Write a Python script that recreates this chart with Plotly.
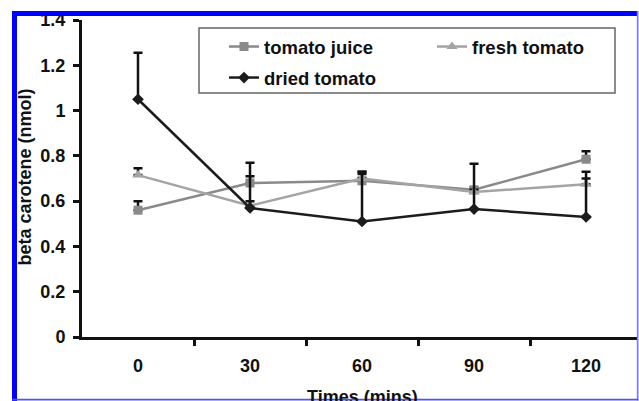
import plotly.graph_objects as go

# Sampling times (minutes) and mean beta carotene (nmol) per treatment
times = ["0", "30", "60", "90", "120"]
tomato_juice = [0.56, 0.68, 0.69, 0.65, 0.785]
tomato_juice_err = [0.04, 0.09, 0.03, 0.01, 0.035]
fresh_tomato = [0.715, 0.58, 0.70, 0.64, 0.675]
fresh_tomato_err = [0.03, 0.13, 0.03, 0.01, 0.055]
dried_tomato = [1.05, 0.57, 0.51, 0.565, 0.53]
dried_tomato_err = [0.205, 0.03, 0.22, 0.20, 0.17]
y_ticks = [0, 0.2, 0.4, 0.6, 0.8, 1, 1.2, 1.4]
y_tick_text = ["0", "0.2", "0.4", "0.6", "0.8", "1", "1.2", "1.4"]

W, H = 639, 401
L, R, T, B = 82, 2, 20, 64
PW, PH = W - L - R, H - T - B
FONT = dict(family="Liberation Sans, Arial, sans-serif", size=18, color="#111111", weight="bold")
LEGEND_FONT = dict(FONT, size=18.5)


def px_x(x):
    return (x - L) / PW


def px_y(y):
    return (H - B - y) / PH


xs = list(range(len(times)))


def err(values):
    return dict(type="data", array=values, arrayminus=[0] * len(values), symmetric=False,
                color="#111111", thickness=2.5, width=4.5)


def legend_box(x, y):
    return dict(orientation="h", x=px_x(x), y=px_y(y), xanchor="left", yanchor="top",
                bgcolor="rgba(0,0,0,0)", borderwidth=0, font=LEGEND_FONT)


fig = go.Figure()
fig.add_trace(go.Scatter(
    x=xs, y=tomato_juice, name="tomato juice", mode="lines+markers",
    line=dict(color="#8a8a8a", width=2.5),
    marker=dict(symbol="square", size=9, color="#8a8a8a"),
    error_y=err(tomato_juice_err), legend="legend",
))
fig.add_trace(go.Scatter(
    x=xs, y=fresh_tomato, name="fresh tomato", mode="lines+markers",
    line=dict(color="#a4a4a4", width=2.5),
    marker=dict(symbol="triangle-up", size=10, color="#a4a4a4"),
    error_y=err(fresh_tomato_err), legend="legend3",
))
fig.add_trace(go.Scatter(
    x=xs, y=dried_tomato, name="dried tomato", mode="lines+markers",
    line=dict(color="#1c1c1c", width=2.5),
    marker=dict(symbol="diamond", size=9, color="#1c1c1c"),
    error_y=err(dried_tomato_err), legend="legend2",
))

shapes = [
    # legend frame
    dict(type="rect", xref="paper", yref="paper", x0=px_x(199), x1=px_x(615),
         y0=px_y(93), y1=px_y(28), line=dict(color="#666666", width=1.5),
         fillcolor="white", layer="below"),
    # blue page frame
    dict(type="rect", xref="paper", yref="paper", x0=px_x(12), x1=px_x(17),
         y0=px_y(401), y1=px_y(11), line=dict(width=0), fillcolor="#0000ff", layer="above"),
    dict(type="rect", xref="paper", yref="paper", x0=px_x(12), x1=px_x(637),
         y0=px_y(16), y1=px_y(11), line=dict(width=0), fillcolor="#0000ff", layer="above"),
    dict(type="rect", xref="paper", yref="paper", x0=px_x(636.8), x1=px_x(638.5),
         y0=px_y(400.5), y1=px_y(11), line=dict(width=0), fillcolor="#7a7aff", layer="above"),
    dict(type="rect", xref="paper", yref="paper", x0=px_x(12), x1=px_x(638.5),
         y0=px_y(400.4), y1=px_y(398.8), line=dict(width=0), fillcolor="#5050ff", layer="above"),
]

annotations = [
    dict(text="Times (mins)", xref="x", yref="paper", x=2, y=px_y(385),
         xanchor="center", yanchor="top", showarrow=False, font=FONT),
    dict(text="beta carotene (nmol)", xref="paper", yref="paper", x=px_x(24.5),
         y=px_y(177), xanchor="center", yanchor="middle", textangle=-90,
         showarrow=False, font=FONT),
]

fig.update_layout(
    width=W, height=H, autosize=False,
    margin=dict(l=L, r=R, t=T, b=B, pad=0),
    paper_bgcolor="white", plot_bgcolor="white",
    font=FONT,
    showlegend=True,
    legend=legend_box(224, 28),
    legend3=legend_box(432, 28),
    legend2=legend_box(224, 59),
    shapes=shapes,
    annotations=annotations,
    xaxis=dict(
        range=[-0.5, 4.455], tickmode="array", tickvals=xs, ticktext=times,
        ticks="", showgrid=False, zeroline=False,
        showline=True, linecolor="#111111", linewidth=3,
        tickfont=FONT, ticklabelstandoff=10,
        minor=dict(tickmode="array", tickvals=[0.5, 1.5, 2.5, 3.5], ticks="outside",
                   ticklen=6, tickwidth=2.5, tickcolor="#111111", showgrid=False),
        fixedrange=True,
    ),
    yaxis=dict(
        range=[0, 1.4], tickmode="array", tickvals=y_ticks, ticktext=y_tick_text,
        ticks="outside", ticklen=6, tickwidth=2.5, tickcolor="#111111",
        showgrid=False, zeroline=False,
        showline=True, linecolor="#111111", linewidth=3,
        tickfont=FONT, ticklabelstandoff=4,
        fixedrange=True,
    ),
)

# keep the page exactly the size of the figure, without scrollbars
page_css = (
    "document.documentElement.style.margin='0';"
    "document.documentElement.style.overflow='hidden';"
    "document.body.style.margin='0';"
    "document.body.style.overflow='hidden';"
)
fig.write_html("out.html", post_script=page_css)
